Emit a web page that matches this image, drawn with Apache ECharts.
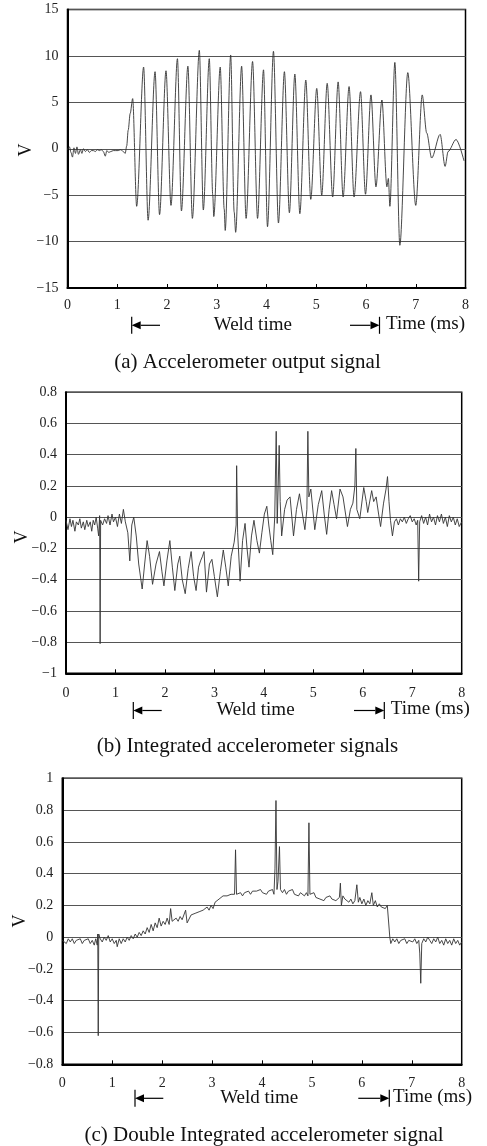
<!DOCTYPE html>
<html>
<head>
<meta charset="utf-8">
<script src="https://cdn.jsdelivr.net/npm/echarts@6/dist/echarts.min.js"></script>
<style>html,body{margin:0;padding:0;background:#fff;}#c{width:487px;height:1146px;}</style>
</head>
<body>
<div id="c"></div>
<script>
// ---------- DATA ----------
// (a) Accelerometer output signal: time (ms) and voltage (V)
const aTime = [0.00,0.04,0.07,0.10,0.13,0.16,0.19,0.22,0.26,0.29,0.32,0.36,0.40,0.44,0.48,0.52,0.56,0.60,0.64,0.68,0.72,0.76,0.79,0.83,0.87,0.92,0.97,1.02,1.07,1.12,1.16,1.19,1.22,1.26,1.31,
  1.39,1.53,1.62,1.76,1.85,1.98,2.08,2.21,2.29,2.42,2.51,2.65,2.73,2.85,2.92,2.94,3.07,3.15,3.17,3.28,3.35,3.38,3.50,3.59,3.72,3.82,3.94,4.02,4.14,4.24,4.36,4.46,4.57,4.67,4.79,4.89,5.01,5.11,5.22,5.33,5.44,5.54,5.66,5.76,5.89,5.99,6.10,6.20,6.32,6.42,6.45,6.48,6.58,6.68,6.84,7.00,7.13,7.22,7.32,7.49,7.59,7.65,7.81,7.97];
const aVolt = [-0.1,0.2,-0.4,-0.9,0.1,-0.5,0.2,-0.6,-0.1,-0.5,0.0,-0.3,-0.1,-0.4,-0.2,-0.2,-0.3,-0.1,-0.2,-0.1,-0.3,-0.8,-0.2,-0.4,-0.3,-0.2,-0.2,-0.2,-0.1,-0.3,-0.5,0.3,2.0,3.8,5.4,
  -6.2,8.8,-7.7,8.3,-7.1,8.4,-6.1,9.7,-6.7,8.9,-7.5,10.6,-6.6,9.7,-5.0,-7.3,8.8,-6.5,-8.8,10.1,-6.8,-9.0,8.9,-7.5,9.4,-7.5,8.5,-8.4,10.5,-8.0,8.3,-6.9,8.05,-7.0,7.4,-5.45,6.5,-5.0,7.05,-5.2,7.2,-5.2,6.7,-5.2,6.15,-4.9,5.8,-4.1,5.25,-4.1,-3.2,-6.2,9.3,-10.4,8.2,-6.1,5.8,1.7,-1.0,1.55,-1.9,-0.3,1.0,-1.3];

// (b) Integrated accelerometer signals
const bTime = [0.00,0.04,0.08,0.11,0.14,0.18,0.21,0.25,0.28,0.31,0.35,0.38,0.42,0.45,0.49,0.52,0.55,0.58,0.61,0.64,0.66,0.68,0.69,0.70,0.74,0.78,0.82,0.85,0.89,0.93,0.96,1.00,1.04,1.08,1.12,1.16,1.20,1.25,1.29,1.33,1.37,1.42,1.47,1.54,1.59,1.64,1.69,1.75,1.82,1.89,1.94,1.98,2.04,2.10,2.15,2.20,2.26,2.30,2.35,2.41,2.47,2.53,2.58,2.63,2.68,2.72,2.76,2.79,2.84,2.90,2.95,3.00,3.06,3.12,3.18,3.23,3.28,3.34,3.40,3.44,3.45,3.47,3.52,3.57,3.62,3.66,3.70,3.75,3.80,3.86,3.91,3.96,4.01,4.06,4.10,4.14,4.18,4.22,4.25,4.27,4.29,4.31,4.33,4.36,4.42,4.47,4.53,4.60,4.66,4.72,4.78,4.83,4.87,4.89,4.91,4.95,5.03,5.10,5.17,5.22,5.27,5.32,5.37,5.42,5.47,5.54,5.60,5.69,5.75,5.80,5.84,5.86,5.88,5.94,6.02,6.07,6.10,6.18,6.22,6.27,6.32,6.36,6.42,6.47,6.50,6.53,6.56,6.60,6.64,6.68,6.72,6.76,6.80,6.84,6.88,6.92,6.96,7.00,7.04,7.08,7.11,7.13,7.15,7.19,7.23,7.27,7.31,7.35,7.39,7.43,7.47,7.51,7.55,7.59,7.63,7.67,7.71,7.75,7.79,7.83,7.87,7.91,7.95,8.00];
const bVolt = [-0.02,-0.08,-0.01,-0.06,-0.02,-0.09,-0.03,-0.05,-0.01,-0.07,-0.03,-0.08,-0.02,-0.06,-0.03,-0.09,-0.02,-0.05,0.0,-0.07,-0.12,0.01,-0.81,-0.02,-0.05,-0.01,-0.04,0.01,-0.05,0.02,-0.03,0.0,-0.06,0.02,-0.04,0.05,-0.03,-0.10,-0.28,-0.05,0.0,-0.12,-0.30,-0.46,-0.30,-0.15,-0.25,-0.43,-0.30,-0.22,-0.35,-0.44,-0.28,-0.15,-0.32,-0.47,-0.30,-0.25,-0.40,-0.49,-0.33,-0.22,-0.38,-0.47,-0.32,-0.28,-0.25,-0.22,-0.48,-0.30,-0.27,-0.38,-0.51,-0.35,-0.21,-0.32,-0.44,-0.25,-0.16,-0.05,0.33,-0.10,-0.41,-0.15,-0.04,-0.20,-0.32,-0.12,-0.02,-0.15,-0.23,-0.10,0.02,0.07,-0.05,-0.15,-0.24,0.0,0.55,-0.04,0.20,0.46,0.10,-0.12,0.05,0.11,0.13,-0.12,0.05,0.15,0.02,-0.08,0.05,0.55,0.13,0.18,-0.08,0.08,0.17,0.02,-0.11,0.05,0.17,0.08,-0.01,0.18,0.13,-0.06,0.05,0.09,0.20,0.44,0.05,-0.01,0.19,0.10,0.03,0.17,0.10,0.13,0.02,-0.06,0.09,0.18,0.26,0.10,-0.02,-0.12,-0.03,-0.01,-0.05,-0.01,-0.03,0.0,-0.04,-0.01,0.01,-0.03,-0.01,-0.05,-0.02,-0.41,-0.03,0.01,-0.04,0.0,-0.05,0.02,-0.03,0.0,-0.05,0.01,-0.03,0.02,-0.04,0.0,-0.06,0.01,-0.03,0.0,-0.05,-0.01,-0.06,-0.03];

// (c) Double integrated accelerometer signal
const cTime = [0.00,0.04,0.08,0.12,0.16,0.20,0.24,0.28,0.32,0.36,0.40,0.44,0.48,0.52,0.56,0.60,0.64,0.67,0.70,0.71,0.72,0.73,0.76,0.80,0.84,0.88,0.92,0.96,1.00,1.04,1.08,1.10,1.14,1.18,1.22,1.26,1.30,1.34,1.38,1.42,1.46,1.50,1.54,1.58,1.62,1.66,1.70,1.74,1.78,1.82,1.86,1.90,1.94,1.98,2.02,2.06,2.10,2.14,2.17,2.20,2.24,2.28,2.32,2.36,2.40,2.44,2.47,2.50,2.54,2.58,2.62,2.66,2.70,2.74,2.78,2.82,2.86,2.90,2.94,2.98,3.02,3.06,3.10,3.14,3.18,3.22,3.26,3.30,3.34,3.38,3.42,3.45,3.47,3.49,3.53,3.57,3.61,3.65,3.69,3.73,3.77,3.81,3.85,3.89,3.93,3.97,4.01,4.05,4.09,4.13,4.17,4.21,4.24,4.26,4.28,4.30,4.32,4.35,4.37,4.41,4.45,4.49,4.53,4.57,4.61,4.65,4.69,4.73,4.77,4.81,4.85,4.89,4.92,4.94,4.96,5.00,5.04,5.08,5.12,5.16,5.20,5.24,5.28,5.32,5.36,5.40,5.44,5.48,5.52,5.55,5.57,5.59,5.62,5.66,5.70,5.74,5.78,5.82,5.86,5.90,5.93,5.96,6.00,6.04,6.08,6.12,6.16,6.20,6.23,6.27,6.31,6.35,6.39,6.43,6.47,6.51,6.54,6.56,6.58,6.62,6.66,6.70,6.74,6.78,6.82,6.86,6.90,6.94,6.98,7.02,7.06,7.10,7.14,7.16,7.18,7.20,7.24,7.28,7.32,7.36,7.40,7.44,7.48,7.52,7.56,7.60,7.64,7.68,7.72,7.76,7.80,7.84,7.88,7.92,7.96,8.00];
const cVolt = [-0.02,-0.01,-0.04,-0.01,-0.03,-0.01,-0.04,-0.02,-0.03,-0.01,-0.04,-0.02,-0.03,-0.01,-0.04,-0.02,-0.05,-0.01,-0.05,0.02,-0.62,0.02,-0.01,-0.03,0.0,-0.02,0.01,-0.03,-0.01,-0.04,-0.02,-0.06,-0.01,-0.04,-0.01,-0.03,0.0,-0.02,0.01,-0.01,0.02,0.0,0.03,0.01,0.04,0.02,0.06,0.03,0.08,0.04,0.09,0.06,0.12,0.07,0.10,0.08,0.12,0.08,0.18,0.10,0.09,0.12,0.10,0.13,0.11,0.10,0.17,0.09,0.10,0.14,0.13,0.15,0.14,0.16,0.15,0.17,0.16,0.19,0.17,0.20,0.18,0.22,0.21,0.24,0.23,0.26,0.25,0.26,0.25,0.27,0.26,0.27,0.55,0.27,0.26,0.28,0.26,0.28,0.27,0.29,0.27,0.29,0.28,0.29,0.28,0.30,0.28,0.29,0.27,0.29,0.28,0.30,0.27,0.43,0.86,0.30,0.35,0.57,0.30,0.28,0.30,0.27,0.29,0.28,0.30,0.27,0.28,0.26,0.28,0.27,0.26,0.28,0.26,0.72,0.27,0.26,0.28,0.25,0.26,0.24,0.25,0.23,0.25,0.24,0.26,0.24,0.25,0.23,0.22,0.25,0.34,0.20,0.26,0.24,0.25,0.22,0.24,0.21,0.23,0.33,0.22,0.25,0.21,0.24,0.20,0.23,0.21,0.28,0.20,0.23,0.19,0.21,0.19,0.20,0.18,0.20,0.20,0.0,-0.04,-0.01,-0.03,-0.01,-0.04,-0.02,-0.03,-0.01,-0.04,-0.02,-0.01,-0.03,-0.01,-0.04,-0.02,-0.10,-0.29,-0.04,-0.01,-0.03,0.0,-0.02,-0.04,-0.01,-0.03,0.0,-0.04,-0.02,-0.05,-0.01,-0.04,-0.02,-0.05,-0.01,-0.04,-0.02,-0.05,-0.03];

// axis ranges / tick steps
const xTicks = [0, 8, 1];
const aY = [-15, 15, 5];
const bY = [-1, 0.8, 0.2];
const cY = [-0.8, 1, 0.2];
const captions = ['(a) Accelerometer output signal', '(b) Integrated accelerometer signals', '(c) Double Integrated accelerometer signal'];

// ---------- CHART ----------
const FONT = '"Liberation Serif", "DejaVu Serif", serif';
const pairs = (t, v) => t.map((x, i) => [x, v[i]]);
const fmtY = v => { const s = String(Number(v.toFixed(1))); return s.replace('-', '\u2212'); };

const grids = [
  {left: 67.5, top: 9.5, width: 398, height: 278.5},
  {left: 66, top: 392.3, width: 395.7, height: 281},
  {left: 62.3, top: 778.3, width: 399.4, height: 286}
];
const yR = [aY, bY, cY];
const xMargins = [10, 13, 12];
const smoothing = [0.3, false, false];

const option = {
  animation: false,
  backgroundColor: '#fff',
  grid: grids.map(g => Object.assign({show: true, borderColor: '#000', borderWidth: 1.5, backgroundColor: 'transparent'}, g)),
  xAxis: grids.map((g, i) => ({
    gridIndex: i, type: 'value', min: xTicks[0], max: xTicks[1], interval: xTicks[2],
    axisLine: {show: true, onZero: false, lineStyle: {color: '#000', width: 2}},
    axisTick: {show: true, inside: true, length: 4, lineStyle: {color: '#000', width: 1}},
    splitLine: {show: false},
    axisLabel: {color: '#222', fontFamily: FONT, fontSize: 14, margin: xMargins[i]}
  })),
  yAxis: grids.map((g, i) => ({
    gridIndex: i, type: 'value', min: yR[i][0], max: yR[i][1], interval: yR[i][2],
    axisLine: {show: true, lineStyle: {color: '#000', width: 2}},
    axisTick: {show: false},
    splitLine: {show: true, lineStyle: {color: '#555', width: 1}},
    axisLabel: {color: '#222', fontFamily: FONT, fontSize: 14, margin: 9, formatter: fmtY}
  })),
  series: [pairs(aTime, aVolt), pairs(bTime, bVolt), pairs(cTime, cVolt)].map((d, i) => ({
    type: 'line', xAxisIndex: i, yAxisIndex: i, data: d, showSymbol: false, symbol: 'none',
    smooth: smoothing[i], smoothMonotone: 'x',
    lineStyle: {color: '#333', width: 0.9}
  })),
  graphic: []
};

function text(x, y, s, size, align, rot) {
  option.graphic.push({type: 'text', x: x, y: y, rotation: rot || 0,
    style: {text: s, font: size + 'px ' + FONT, fill: '#111', textAlign: align, textVerticalAlign: 'middle'}});
}
function weldRow(y, lx, lEnd, wx, rStart, rx, tx) {
  const g = option.graphic, ls = {stroke: '#000', lineWidth: 1.2};
  g.push({type: 'line', shape: {x1: lx, y1: y - 8.5, x2: lx, y2: y + 8.5}, style: ls});
  g.push({type: 'polygon', shape: {points: [[lx, y], [lx + 9, y - 4], [lx + 9, y + 4]]}, style: {fill: '#000'}});
  g.push({type: 'line', shape: {x1: lx + 9, y1: y, x2: lEnd, y2: y}, style: ls});
  g.push({type: 'line', shape: {x1: rStart, y1: y, x2: rx - 9, y2: y}, style: ls});
  g.push({type: 'polygon', shape: {points: [[rx, y], [rx - 9, y - 4], [rx - 9, y + 4]]}, style: {fill: '#000'}});
  g.push({type: 'line', shape: {x1: rx, y1: y - 8.5, x2: rx, y2: y + 8.5}, style: ls});
  text(wx, y, 'Weld time', 19, 'center');
  text(tx, y - 1, 'Time (ms)', 19, 'left');
}
weldRow(325.3, 131.7, 160, 252.8, 350, 379.5, 386);
weldRow(710.5, 133.3, 161.7, 255.5, 354, 384.3, 390.7);
weldRow(1098.3, 135, 163.3, 259.2, 358.3, 389.3, 393);

text(247.5, 362, captions[0], 21, 'center');
text(247.5, 746.7, captions[1], 21, 'center');
text(264, 1135, captions[2], 21, 'center');

text(26, 150, 'V', 18, 'center', Math.PI / 2);
text(22, 537, 'V', 18, 'center', Math.PI / 2);
text(20, 921, 'V', 18, 'center', Math.PI / 2);

const chart = echarts.init(document.getElementById('c'), null, {renderer: 'canvas'});
chart.setOption(option);
</script>
</body>
</html>
